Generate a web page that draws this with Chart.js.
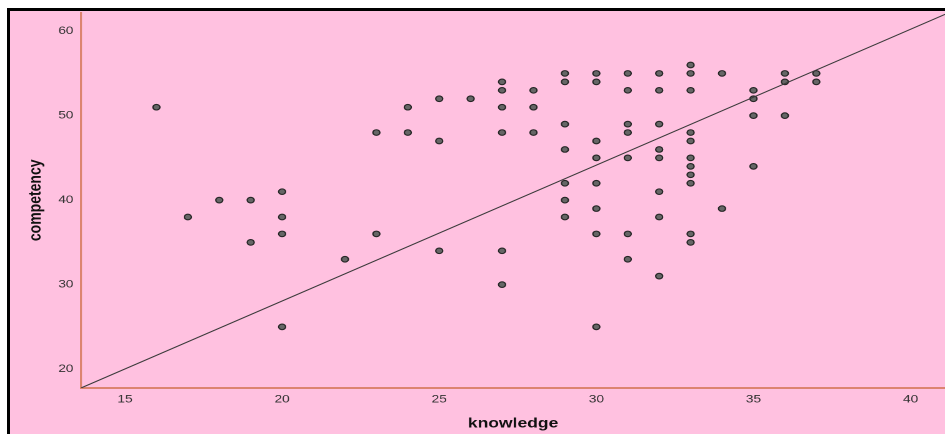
<!DOCTYPE html>
<html>
<head>
<meta charset="utf-8">
<script src="https://cdn.jsdelivr.net/npm/chart.js@4"></script>
<style>
  html, body { margin: 0; padding: 0; background: #fff; overflow: hidden; }
  #frame {
    position: absolute; left: 7px; top: 8px; width: 945px; height: 430px;
    background: #ffc1e0; border-left: 3px solid #000; border-top: 3px solid #000;
  }
  #wrap {
    position: absolute; left: 0; top: 0; width: 760px; height: 434px;
    transform: scaleX(1.25); transform-origin: 0 0;
  }
</style>
</head>
<body>
<div id="frame"></div>
<div id="wrap"><canvas id="chartScatter" width="760" height="434"></canvas></div>
<script>
// knowledge (x) and competency (y), one entry per dot
const knowledge = [
  16, 17, 18, 19, 19, 20, 20, 20, 20, 22, 23, 23, 24, 24, 25, 25, 25, 26,
  27, 27, 27, 27, 27, 27, 28, 28, 28,
  29, 29, 29, 29, 29, 29, 29,
  30, 30, 30, 30, 30, 30, 30, 30,
  31, 31, 31, 31, 31, 31, 31,
  32, 32, 32, 32, 32, 32, 32, 32,
  33, 33, 33, 33, 33, 33, 33, 33, 33, 33, 33,
  34, 34, 35, 35, 35, 35, 36, 36, 36, 37, 37
];
const competency = [
  51, 38, 40, 40, 35, 41, 38, 36, 25, 33, 48, 36, 51, 48, 52, 47, 34, 52,
  54, 53, 51, 48, 34, 30, 53, 51, 48,
  55, 54, 49, 46, 42, 40, 38,
  55, 54, 47, 45, 42, 39, 36, 25,
  55, 53, 49, 48, 45, 36, 33,
  55, 53, 49, 46, 45, 41, 38, 31,
  56, 55, 53, 48, 47, 45, 44, 43, 42, 36, 35,
  55, 39, 53, 52, 50, 44, 55, 54, 50, 55, 54
];

// fit line end points (plot corners)
const fitX = [13.6, 41.1];
const fitY = [17.76, 62.0];

const xTicks = [15, 20, 25, 30, 35, 40];
const yTicks = [20, 30, 40, 50, 60];

const axisColor = '#dc8470';
const tickFont = { family: '"Liberation Sans", Arial, sans-serif', size: 11 };
const titleFont = { family: '"Liberation Sans", Arial, sans-serif', size: 14, weight: 'bold' };

const puntos = knowledge.map((k, i) => ({ x: k, y: competency[i] }));
const linea = fitX.map((x, i) => ({ x: x, y: fitY[i] }));

const ctx = document.getElementById('chartScatter').getContext('2d');

const chartScatter = new Chart(ctx, {
    type: 'scatter',
    data: {
        datasets: [
            {
                type: 'line',
                data: linea,
                borderColor: '#3a3a3a',
                borderWidth: 1,
                pointRadius: 0,
                fill: false
            },
            {
                data: puntos,
                backgroundColor: '#666666',
                borderColor: '#262626',
                borderWidth: 1.1,
                pointRadius: 2.8,
                pointHoverRadius: 2.8
            }
        ]
    },
    options: {
        responsive: false,
        animation: false,
        devicePixelRatio: 2,
        layout: { padding: { top: 11, left: 0, right: 0, bottom: 0 } },
        plugins: { legend: { display: false }, tooltip: { enabled: false } },
        scales: {
            x: {
                type: 'linear',
                min: fitX[0],
                max: fitX[1],
                afterBuildTicks: s => { s.ticks = xTicks.map(v => ({ value: v })) },
                afterFit: s => { s.height = 46 },
                grid: { color: 'rgba(0,0,0,0)', drawTicks: false },
                border: { color: axisColor, width: 2 },
                ticks: { font: tickFont, color: '#333', padding: 5 },
                title: { display: true, text: 'knowledge', font: titleFont, color: '#111', padding: { top: 0, bottom: 2 } }
            },
            y: {
                type: 'linear',
                min: 17.76,
                max: 62.2,
                afterBuildTicks: s => { s.ticks = yTicks.map(v => ({ value: v })) },
                afterFit: s => { s.width = 64.8 },
                grid: { color: 'rgba(0,0,0,0)', drawTicks: false },
                border: { color: axisColor, width: 1.6 },
                ticks: { font: tickFont, color: '#333', padding: 6 },
                title: { display: true, text: 'competency', font: titleFont, color: '#111', padding: { top: 20, bottom: 0 } }
            }
        }
    }
});
</script>
</body>
</html>
